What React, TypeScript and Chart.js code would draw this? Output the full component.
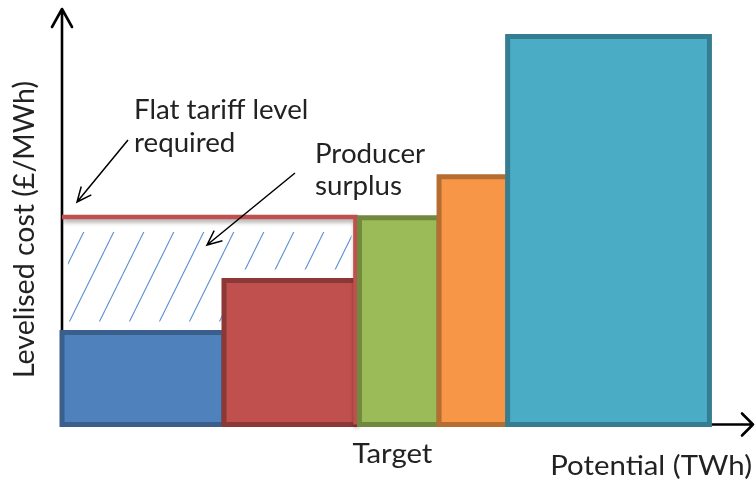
import React, { useEffect, useRef } from "react";
import { Chart, registerables } from "chart.js";

Chart.register(...registerables);

// ---- Data ----
const technologies = ["Band 1", "Band 2", "Band 3", "Band 4", "Band 5"];
const potentialStart = [0, 32.35, 59.4, 75.3, 89.0]; // TWh
const potentialEnd = [32.35, 58.6, 75.3, 89.0, 129.3]; // TWh
const levelisedCost = [26.5, 41.5, 59.6, 71.4, 111.8]; // £/MWh
const flatTariff = 59.8; // £/MWh
const targetPotential = 58.6; // TWh
const xAxisMax = 138;
const yAxisMax = 120;

const yAxisTitle = "Levelised cost (£/MWh)";
const xAxisTitle = "Potential (TWh)";
const targetLabel = "Target";
const tariffNote = ["Flat tariff level", "required"];
const surplusNote = ["Producer", "surplus"];

// ---- Styles ----
const fillColors = ["#4F81BD", "#C0504D", "#9BBB59", "#F79646", "#4BACC6"];
const borderColors = ["#3A5F8C", "#8C3836", "#71893F", "#B66D31", "#357D91"];
const tariffColor = "#C0504D";
const hatchColor = "#5B8ED2";
const textColor = "#222222";
const FONT = "Lato, 'Noto Sans', sans-serif";

function drawArrow(
  ctx: CanvasRenderingContext2D,
  x1: number,
  y1: number,
  x2: number,
  y2: number,
  head: number,
  spread: number
) {
  const a = Math.atan2(y2 - y1, x2 - x1);
  ctx.beginPath();
  ctx.moveTo(x1, y1);
  ctx.lineTo(x2, y2);
  ctx.moveTo(x2 - head * Math.cos(a - spread), y2 - head * Math.sin(a - spread));
  ctx.lineTo(x2, y2);
  ctx.lineTo(x2 - head * Math.cos(a + spread), y2 - head * Math.sin(a + spread));
  ctx.stroke();
}

function textStretched(
  ctx: CanvasRenderingContext2D,
  text: string,
  x: number,
  y: number,
  sx: number,
  align: CanvasTextAlign
) {
  ctx.save();
  ctx.textAlign = align;
  ctx.translate(x, y);
  ctx.scale(sx, 1);
  ctx.fillText(text, 0, 0);
  ctx.restore();
}

const supplyCurvePlugin = {
  id: "supplyCurveDecor",
  beforeDatasetsDraw(chart: any) {
    const ctx: CanvasRenderingContext2D = chart.ctx;
    const xs = chart.scales.x;
    const ys = chart.scales.y;
    const x0 = xs.getPixelForValue(0);
    const y0 = ys.getPixelForValue(0);
    const area = chart.chartArea;

    // Hatched producer-surplus region (between tariff level and bar tops)
    const left = x0 + 6;
    const right = xs.getPixelForValue(targetPotential) - 4;
    const top = ys.getPixelForValue(flatTariff) + 15;
    const inset = 11;
    ctx.save();
    ctx.beginPath();
    ctx.moveTo(left, top);
    ctx.lineTo(right, top);
    for (let i = technologies.length - 1; i >= 0; i--) {
      if (potentialStart[i] >= targetPotential) continue;
      const yb = ys.getPixelForValue(levelisedCost[i]) - inset;
      const xa = Math.max(xs.getPixelForValue(potentialStart[i]), left);
      const xb = Math.min(xs.getPixelForValue(potentialEnd[i]), right);
      ctx.lineTo(xb, yb);
      ctx.lineTo(xa, yb);
    }
    ctx.closePath();
    ctx.clip();
    ctx.strokeStyle = hatchColor;
    ctx.lineWidth = 1.1;
    const slope = 0.4945; // dx per dy
    const refY = y0 - 100;
    for (let k = -6; k < 20; k++) {
      const xr = x0 + 36 + 30 * k;
      ctx.beginPath();
      ctx.moveTo(xr - slope * 200, refY + 200);
      ctx.lineTo(xr + slope * 200, refY - 200);
      ctx.stroke();
    }
    ctx.restore();

    // Axes with arrow heads
    ctx.save();
    ctx.strokeStyle = "#000";
    ctx.lineWidth = 2.6;
    ctx.lineCap = "round";
    ctx.lineJoin = "round";
    ctx.beginPath();
    ctx.moveTo(x0, y0);
    ctx.lineTo(x0, area.top + 1);
    ctx.moveTo(x0 - 10, area.top + 19);
    ctx.lineTo(x0, area.top + 1);
    ctx.lineTo(x0 + 10, area.top + 19);
    ctx.stroke();
    ctx.beginPath();
    ctx.moveTo(x0, y0);
    ctx.lineTo(area.right, y0);
    ctx.moveTo(area.right - 11, y0 - 11);
    ctx.lineTo(area.right, y0);
    ctx.lineTo(area.right - 11, y0 + 11);
    ctx.stroke();
    ctx.restore();
  },
  beforeDatasetDraw(chart: any, args: any) {
    if (args.meta.index === technologies.length) {
      const ctx = chart.ctx;
      ctx.save();
      ctx.shadowColor = "rgba(0,0,0,0.35)";
      ctx.shadowBlur = 4;
      ctx.shadowOffsetX = 1;
      ctx.shadowOffsetY = 3;
    }
  },
  afterDatasetDraw(chart: any, args: any) {
    if (args.meta.index === technologies.length) {
      chart.ctx.restore();
    }
  },
  afterDraw(chart: any) {
    const ctx: CanvasRenderingContext2D = chart.ctx;
    const xs = chart.scales.x;
    ctx.save();
    ctx.fillStyle = textColor;
    ctx.textBaseline = "alphabetic";
    ctx.textAlign = "left";

    // Y-axis title (rotated)
    ctx.save();
    ctx.font = `28.5px ${FONT}`;
    ctx.translate(34, 378);
    ctx.rotate(-Math.PI / 2);
    ctx.fillText(yAxisTitle, 0, 0);
    ctx.restore();

    ctx.font = `26px ${FONT}`;
    const sNote = 1.065;
    textStretched(ctx, tariffNote[0], 134, 119, sNote, "left");
    textStretched(ctx, tariffNote[1], 134, 152, sNote, "left");
    textStretched(ctx, surplusNote[0], 315, 163, sNote, "left");
    textStretched(ctx, surplusNote[1], 315, 195, sNote, "left");
    const sAxis = 1.13;
    textStretched(ctx, targetLabel, xs.getPixelForValue(targetPotential) - 3, 463, sAxis, "left");
    textStretched(ctx, xAxisTitle, 752, 475, sAxis, "right");
    ctx.restore();

    // Annotation arrows
    ctx.save();
    ctx.strokeStyle = "#000";
    ctx.lineWidth = 1.5;
    drawArrow(ctx, 128, 140, 77, 202, 16, 0.42);
    drawArrow(ctx, 295, 173, 207, 245, 16, 0.42);
    ctx.restore();
  },
};

export default function App() {
  const canvasRef = useRef<HTMLCanvasElement | null>(null);

  useEffect(() => {
    if (!canvasRef.current) return;
    const barDatasets = technologies.map((name, i) => ({
      label: name,
      data: [
        { x: potentialStart[i], y: 0 },
        { x: potentialStart[i], y: levelisedCost[i] },
        { x: potentialEnd[i], y: levelisedCost[i] },
        { x: potentialEnd[i], y: 0 },
        { x: potentialStart[i], y: 0 },
        { x: potentialEnd[i], y: 0 },
      ],
      showLine: true,
      fill: "origin",
      backgroundColor: fillColors[i],
      borderColor: borderColors[i],
      borderWidth: 5,
      borderJoinStyle: "miter" as const,
      borderCapStyle: "square" as const,
      pointRadius: 0,
      tension: 0,
      clip: false,
      order: 10 - i,
    }));
    const tariffDataset = {
      label: "Flat tariff",
      data: [
        { x: 0, y: flatTariff },
        { x: targetPotential, y: flatTariff },
        { x: targetPotential, y: 0 },
      ],
      showLine: true,
      fill: false,
      borderColor: tariffColor,
      backgroundColor: tariffColor,
      borderWidth: 4.5,
      borderJoinStyle: "miter" as const,
      pointRadius: 0,
      tension: 0,
      clip: false,
      order: 8.5,
    };

    const chart = new Chart(canvasRef.current, {
      type: "scatter",
      data: { datasets: [...barDatasets, tariffDataset] as any },
      options: {
        animation: false,
        responsive: true,
        maintainAspectRatio: false,
        layout: { padding: { left: 62, top: 8, right: 2, bottom: 58.5 } },
        plugins: { legend: { display: false }, tooltip: { enabled: false } },
        scales: {
          x: { type: "linear", min: 0, max: xAxisMax, display: false },
          y: { type: "linear", min: 0, max: yAxisMax, display: false },
        },
      },
      plugins: [supplyCurvePlugin],
    });
    return () => chart.destroy();
  }, []);

  return (
    <div style={{ position: "fixed", left: 0, top: 0, width: 755, height: 483, background: "#fff" }}>
      <canvas ref={canvasRef} />
    </div>
  );
}
